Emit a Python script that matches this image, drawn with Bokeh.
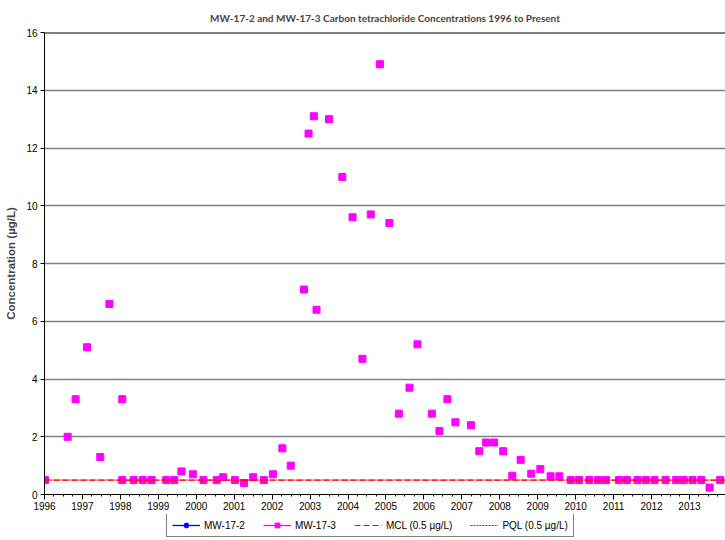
import numpy as np
from bokeh.plotting import figure
from bokeh.layouts import column
from bokeh.models import (Range1d, FixedTicker, Legend, LegendItem, Span,
                          ColumnDataSource)
from bokeh.embed import file_html
from bokeh.resources import INLINE

# ---------------- data ----------------
TITLE = "MW-17-2 and MW-17-3 Carbon tetrachloride Concentrations 1996 to Present"
Y_LABEL = "Concentration (µg/L)"

YEARS = list(range(1996, 2014))
Y_TICKS = [0, 2, 4, 6, 8, 10, 12, 14, 16]

# MW-17-2: no values visible in the chart (legend entry only)
mw172_dates = [np.nan]
mw172_vals = [np.nan]

# MW-17-3 (decimal year, µg/L)
mw173_dates = [1996.01, 1996.61, 1996.82, 1997.12, 1997.47, 1997.71, 1998.05, 1998.05,
               1998.35, 1998.59, 1998.82, 1999.21, 1999.42, 1999.61, 1999.91, 2000.19,
               2000.54, 2000.71, 2001.02, 2001.26, 2001.50, 2001.78, 2002.02, 2002.27,
               2002.49, 2002.84, 2002.96, 2003.10, 2003.17, 2003.50, 2003.85, 2004.12,
               2004.38, 2004.60, 2004.84, 2005.09, 2005.34, 2005.62, 2005.83, 2006.21,
               2006.41, 2006.62, 2006.83, 2007.24, 2007.46, 2007.64, 2007.85, 2008.09,
               2008.33, 2008.55, 2008.83, 2009.07, 2009.34, 2009.57, 2009.87, 2010.09,
               2010.36, 2010.59, 2010.80, 2011.14, 2011.35, 2011.63, 2011.85, 2012.08,
               2012.37, 2012.65, 2012.85, 2013.08, 2013.31, 2013.53, 2013.81]
mw173_vals = [0.5, 2.0, 3.3, 5.1, 1.3, 6.6, 3.3, 0.5,
              0.5, 0.5, 0.5, 0.5, 0.5, 0.8, 0.7, 0.5,
              0.5, 0.6, 0.5, 0.4, 0.6, 0.5, 0.7, 1.6,
              1.0, 7.1, 12.5, 13.1, 6.4, 13.0, 11.0, 9.6,
              4.7, 9.7, 14.9, 9.4, 2.8, 3.7, 5.2, 2.8,
              2.2, 3.3, 2.5, 2.4, 1.5, 1.8, 1.8, 1.5,
              0.65, 1.2, 0.72, 0.88, 0.63, 0.63, 0.5, 0.5,
              0.5, 0.5, 0.5, 0.5, 0.5, 0.5, 0.5, 0.5,
              0.5, 0.5, 0.5, 0.5, 0.5, 0.24, 0.5]

MCL = 0.5
PQL = 0.5

X_START, X_END = 1996, 2013.95
Y_START, Y_END = 0, 16

MAGENTA = "#FF00FF"

# ---------------- main chart ----------------
p = figure(width=725, height=514, output_backend="svg", toolbar_location=None,
           x_range=Range1d(X_START, X_END), y_range=Range1d(Y_START, Y_END),
           min_border_left=44, min_border_right=0, min_border_top=32,
           min_border_bottom=20)

p.title.text = TITLE
p.title.text_font = "Lato"
p.title.text_font_style = "bold"
p.title.text_font_size = "10px"
p.title.align = "center"
p.title.offset = -12
p.title.standoff = 17

p.outline_line_color = None

xa = p.xaxis[0]
xa.ticker = FixedTicker(ticks=YEARS,
                        minor_ticks=[y + q for y in YEARS for q in (0.25, 0.5, 0.75)])
xa.axis_line_color = "black"
xa.major_tick_line_color = "black"
xa.minor_tick_line_color = "black"
xa.major_tick_in = 0
xa.major_tick_out = 5
xa.minor_tick_in = 0
xa.minor_tick_out = 2
xa.major_label_standoff = 2
xa.major_label_text_font = "Liberation Sans"
xa.major_label_text_font_size = "10px"
xa.major_label_text_color = "black"

ya = p.yaxis[0]
ya.ticker = FixedTicker(ticks=Y_TICKS)
ya.axis_line_color = "black"
ya.major_tick_line_color = "black"
ya.major_tick_in = 0
ya.major_tick_out = 4
ya.minor_tick_line_color = None
ya.major_label_standoff = 3
ya.major_label_text_font = "Liberation Sans"
ya.major_label_text_font_size = "10px"
ya.major_label_text_color = "black"
ya.axis_label = Y_LABEL
ya.axis_label_text_font = "Liberation Sans"
ya.axis_label_text_font_style = "bold"
ya.axis_label_text_font_size = "11.5px"
ya.axis_label_standoff = 6

p.xgrid.grid_line_color = None
p.ygrid.grid_line_color = "#7f7f7f"
p.ygrid.grid_line_width = 1.3
p.add_layout(Span(location=Y_END, dimension="width", line_color="black", line_width=2))

s3 = ColumnDataSource(dict(x=mw173_dates, y=mw173_vals))
p.scatter("x", "y", source=s3, marker="square", size=7,
          fill_color=MAGENTA, line_color=MAGENTA)
s2 = ColumnDataSource(dict(x=np.array(mw172_dates), y=np.array(mw172_vals)))
p.scatter("x", "y", source=s2, marker="circle", size=7,
          fill_color="blue", line_color="blue")

p.line([X_START, X_END], [MCL, MCL], line_color="red", line_width=1.2, line_dash="6 3")
p.line([X_START, X_END], [PQL, PQL], line_color="red", line_width=1, line_dash="2 1")

# ---------------- legend strip (below the axis labels) ----------------
lg = figure(width=725, height=26, output_backend="svg", toolbar_location=None,
            x_axis_type=None, y_axis_type=None,
            x_range=Range1d(0, 1), y_range=Range1d(0, 1),
            min_border_left=0, min_border_right=0, min_border_top=0,
            min_border_bottom=0)
lg.outline_line_color = None
lg.xgrid.grid_line_color = None
lg.ygrid.grid_line_color = None

nan_src = ColumnDataSource(dict(x=np.array([np.nan]), y=np.array([np.nan])))
k2l = lg.line("x", "y", source=nan_src, line_color="blue", line_width=1.3)
k2m = lg.scatter("x", "y", source=nan_src, marker="circle", size=7,
                 fill_color="blue", line_color="blue")
k3l = lg.line("x", "y", source=nan_src, line_color=MAGENTA, line_width=1.3)
k3m = lg.scatter("x", "y", source=nan_src, marker="square", size=7,
                 fill_color=MAGENTA, line_color=MAGENTA)
kmcl = lg.line("x", "y", source=nan_src, line_color="red", line_width=1.2,
               line_dash="6 3")
kpql = lg.line("x", "y", source=nan_src, line_color="red", line_width=1,
               line_dash="2 1")

legend = Legend(items=[
    LegendItem(label="MW-17-2", renderers=[k2l, k2m]),
    LegendItem(label="MW-17-3", renderers=[k3l, k3m]),
    LegendItem(label="MCL (0.5 µg/L)", renderers=[kmcl]),
    LegendItem(label="PQL (0.5 µg/L)", renderers=[kpql]),
])
legend.orientation = "horizontal"
legend.location = (122, 3)
legend.border_line_color = "black"
legend.border_line_width = 1
legend.background_fill_color = "white"
legend.padding = 5
legend.margin = 0
legend.spacing = 18
legend.glyph_width = 28
legend.glyph_height = 12
legend.label_standoff = 4
legend.label_text_font = "Liberation Sans"
legend.label_text_font_size = "10px"
legend.label_text_color = "black"
lg.add_layout(legend, "center")

layout = column(p, lg, spacing=0)
open("out.html", "w").write(file_html(layout, INLINE))
